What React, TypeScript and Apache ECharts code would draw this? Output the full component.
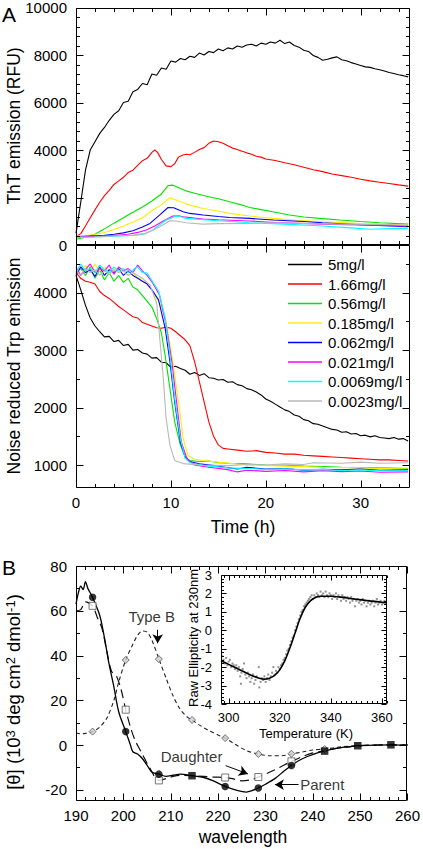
import React, { useEffect, useRef } from "react";
import * as echarts from "echarts";

const FONT = '"Liberation Sans", Arial, Helvetica, sans-serif';

// ---------- Panel A: legend / series names & colours ----------
const CONC_NAMES = ["5mg/l", "1.66mg/l", "0.56mg/l", "0.185mg/l", "0.062mg/l", "0.021mg/l", "0.0069mg/l", "0.0023mg/l"];
const CONC_COLORS = ["#000000", "#ff0000", "#00e400", "#ffee00", "#0000ff", "#ff00ff", "#00ffff", "#b8b8b8"];

// ---------- Panel A top: ThT emission (time h, RFU) ----------
const tht5 = [[0,490],[0.5,1800],[1,3150],[1.5,4000],[2,4350],[2.5,4700],[3,4950],[3.5,5250],[4,5500],[4.5,5650],[5,6000],[5.5,6050],[6,6450],[6.5,6550],[7,6800],[7.5,6750],[8,7200],[8.5,7150],[9,7450],[9.5,7400],[10,7750],[10.5,7700],[11,7850],[11.5,7800],[12,7950],[12.5,7900],[13,8080],[13.5,8000],[14,8150],[14.5,8100],[15,8250],[15.5,8180],[16,8300],[16.5,8250],[17,8380],[17.5,8330],[18,8420],[18.5,8450],[19,8380],[19.5,8500],[20,8450],[20.5,8550],[21,8500],[21.5,8620],[22,8480],[22.5,8550],[23,8400],[23.5,8330],[24,8200],[24.5,8150],[25,7980],[25.5,7900],[26,7780],[26.5,7820],[27,7880],[27.5,7920],[28,7800],[28.5,7760],[29,7680],[29.5,7620],[30,7560],[30.5,7500],[31,7480],[31.5,7420],[32,7380],[32.5,7330],[33,7260],[33.5,7220],[34,7170],[34.5,7130],[35,7080]];
const tht166 = [[0,350],[0.5,480],[1,800],[1.5,1150],[2,1480],[2.5,1800],[3,2080],[3.5,2300],[4,2550],[4.5,2700],[5,2850],[5.5,3050],[6,3150],[6.5,3350],[7,3550],[7.5,3650],[8,3900],[8.3,4000],[8.6,3900],[9,3600],[9.5,3330],[10,3300],[10.4,3420],[10.8,3700],[11.2,3780],[11.6,3820],[12,3800],[12.5,3900],[13,4020],[13.5,4100],[14,4280],[14.5,4380],[15,4350],[15.5,4280],[16,4180],[16.5,4080],[17,4020],[17.5,3950],[18,3880],[18.5,3820],[19,3740],[19.5,3700],[20,3620],[21,3560],[22,3460],[23,3380],[24,3270],[25,3170],[26,3090],[27,2990],[28,2920],[29,2850],[30,2770],[31,2700],[32,2640],[33,2590],[34,2530],[35,2480]];
const tht056 = [[0,240],[1,330],[2,450],[3,680],[4,920],[5,1150],[6,1380],[7,1600],[8,1850],[9,2150],[9.7,2500],[10.2,2520],[10.6,2450],[11,2380],[11.6,2280],[12.5,2180],[14,2030],[15,1950],[16.2,1820],[17.5,1680],[18.3,1580],[19.4,1500],[21,1380],[22.5,1260],[24,1180],[26,1110],[27.8,1050],[30,990],[32,940],[35,880]];
const tht0185 = [[0,380],[1,400],[2,440],[3,530],[4,650],[5,800],[6,970],[7,1150],[8,1450],[9,1700],[9.9,1990],[10.4,1920],[11,1820],[12,1680],[13.4,1540],[15,1430],[16.2,1330],[18.3,1220],[20.8,1120],[23,1050],[26,980],[30,900],[35,840]];
const tht0062 = [[0,350],[1,370],[2,390],[3,410],[4,450],[5,510],[6,600],[7,760],[7.8,910],[8.8,1260],[9.7,1580],[10.3,1570],[10.6,1520],[11.3,1400],[12,1330],[13.4,1260],[15,1200],[16.2,1160],[18.3,1120],[20.8,1050],[24,990],[26,940],[30,850],[35,770]];
const tht0021 = [[0,350],[2,370],[4,400],[5.5,450],[6.5,530],[7.4,630],[8.3,800],[9.2,1010],[10.2,1220],[10.8,1230],[11.3,1190],[12.5,1130],[13.4,1090],[15,1060],[18.3,1010],[21,950],[26,880],[30,840],[35,800]];
const tht00069 = [[0,320],[2,340],[4,370],[6.4,410],[7.3,480],[8.1,630],[9.5,1050],[10.6,1220],[11,1200],[11.6,1120],[13,1080],[15,1020],[18.3,940],[22,880],[26,800],[29,720],[31,660],[33,690],[35,700]];
const tht00023 = [[0,320],[2,340],[4,380],[6,420],[7.4,490],[8.8,770],[9.9,1020],[10.5,1010],[11.6,940],[13.4,880],[15,900],[18.3,910],[20.8,940],[25,900],[28,880],[32,860],[35,840]];

// ---------- Panel A bottom: noise reduced Trp emission ----------
const trp5 = [[0,4300],[0.5,4050],[1,3780],[1.5,3560],[2,3420],[2.5,3320],[3,3230],[3.5,3240],[4,3150],[4.5,3170],[5,3080],[5.5,3100],[6,3000],[6.5,3010],[7,2950],[7.5,2930],[8,2860],[8.5,2870],[9,2790],[9.5,2780],[10,2700],[10.5,2720],[11,2680],[11.5,2650],[12,2580],[12.5,2610],[13,2560],[13.5,2590],[14,2520],[14.5,2510],[15,2480],[15.5,2490],[16,2440],[16.5,2450],[17,2400],[17.5,2380],[18,2330],[18.5,2310],[19,2270],[19.5,2220],[20,2150],[20.5,2110],[21,2060],[21.5,2010],[22,1960],[22.5,1930],[23,1870],[23.5,1850],[24,1790],[24.5,1770],[25,1720],[25.5,1710],[26,1680],[26.5,1650],[27,1620],[27.5,1610],[28,1570],[28.5,1580],[29,1540],[29.5,1550],[30,1510],[30.5,1520],[31,1490],[31.5,1510],[32,1480],[32.5,1470],[33,1460],[33.5,1480],[34,1450],[34.5,1460],[35,1420]];
const trp166 = [[0,4350],[0.5,4250],[1,4200],[1.5,4180],[2,4150],[2.5,4020],[3,3950],[3.5,3900],[4,3830],[4.5,3760],[5,3700],[5.5,3640],[6,3580],[6.5,3560],[7,3480],[7.5,3450],[8,3420],[8.5,3390],[9,3380],[9.5,3400],[10,3380],[10.5,3320],[11,3250],[11.5,3180],[12,3080],[12.5,2800],[13,2450],[13.5,2100],[14,1750],[14.5,1500],[15,1350],[15.5,1290],[16,1280],[17,1260],[18,1240],[19,1250],[20,1220],[21,1210],[22,1190],[23,1190],[24,1170],[25,1160],[26,1150],[27,1140],[28,1130],[29,1120],[30,1110],[31,1100],[32,1090],[33,1090],[34,1080],[35,1070]];
const trp056 = [[0,4350],[0.5,4420],[1,4300],[1.5,4450],[2,4250],[2.5,4400],[3,4220],[3.5,4350],[4,4200],[4.5,4300],[5,4180],[5.5,4250],[6,4100],[6.5,4050],[7,3950],[7.5,3850],[8,3750],[8.5,3550],[9,3300],[9.4,2900],[9.9,2330],[10.4,1750],[11,1350],[11.5,1140],[12,1080],[13,1060],[14,1070],[15,1040],[16,1030],[18,1020],[20,1000],[22,995],[24,980],[26,975],[28,960],[30,955],[32,950],[35,940]];
const trp0185 = [[0,4400],[0.5,4300],[1,4480],[1.5,4350],[2,4500],[2.5,4380],[3,4450],[3.5,4320],[4,4420],[4.5,4350],[5,4400],[5.5,4300],[6,4350],[6.5,4250],[7,4250],[7.5,4150],[8,4050],[8.5,3900],[9,3750],[9.5,3500],[10.2,2800],[10.8,2100],[11.3,1460],[11.8,1165],[12.5,1100],[13.4,1080],[15,1050],[18,1000],[22,980],[26,960],[30,950],[35,930]];
const trp0062 = [[0,4300],[0.5,4450],[1,4350],[1.5,4400],[2,4280],[2.5,4450],[3,4300],[3.5,4400],[4,4350],[4.5,4420],[5,4300],[5.5,4380],[6,4300],[6.5,4250],[7,4200],[7.5,4150],[8,4050],[8.7,3875],[9.4,3380],[9.9,2800],[10.4,2100],[11,1400],[11.5,1140],[12,1060],[13,1020],[15,980],[17,930],[18,960],[20,930],[22,940],[24,910],[26,925],[28,915],[30,930],[32,910],[35,915]];
const trp0021 = [[0,4450],[0.5,4300],[1,4400],[1.5,4500],[2,4350],[2.5,4420],[3,4380],[3.5,4480],[4,4320],[4.5,4450],[5,4380],[5.5,4420],[6,4350],[6.5,4480],[7,4380],[7.5,4300],[8.1,4165],[8.8,3960],[9.5,3440],[10.1,2800],[10.6,2100],[11.1,1400],[11.7,1105],[12.5,1000],[14,960],[16,920],[17,880],[18,910],[20,890],[22,905],[24,880],[26,900],[28,885],[30,895],[32,875],[35,880]];
const trp00069 = [[0,4350],[0.5,4500],[1,4380],[1.5,4420],[2,4350],[2.5,4480],[3,4400],[3.5,4350],[4,4450],[4.5,4380],[5,4420],[5.5,4350],[6,4400],[6.5,4450],[7,4350],[7.5,4340],[8.7,4030],[9.4,3560],[9.9,2915],[10.4,2160],[11,1460],[11.5,1120],[12,1040],[14,980],[16,950],[18,940],[20,925],[22,935],[24,915],[26,925],[28,905],[30,915],[32,900],[35,900]];
const trp00023 = [[0,4380],[0.5,4300],[1,4420],[1.5,4350],[2,4400],[2.5,4300],[3,4380],[3.5,4320],[4,4400],[4.5,4350],[5,4380],[5.5,4300],[6,4350],[6.5,4300],[7,4250],[7.8,4135],[8.5,3815],[8.8,3260],[9.2,2510],[9.5,1810],[9.9,1345],[10.4,1080],[11.3,1025],[13,1000],[16,990],[18,1010],[20,1000],[22,1020],[24,1010],[25,1040],[28,1030],[30,1050],[32,1030],[35,1040]];

const THT_DATA = [tht5, tht166, tht056, tht0185, tht0062, tht0021, tht00069, tht00023];
const TRP_DATA = [trp5, trp166, trp056, trp0185, trp0062, trp0021, trp00069, trp00023];

// ---------- Panel B: CD spectra (wavelength nm, 10^3 deg cm2 dmol-1) ----------
const parentCurve = [[190,63],[190.5,68],[191,71],[191.5,69.5],[192,73],[192.5,70],[193.5,66],[195,58],[196,48],[197,36],[198,26],[199,15],[200.5,6],[201.5,0],[202,-3],[203,-4],[204,-6],[205,-9],[206,-12],[207.5,-13],[209,-14],[210.5,-13.5],[212,-13],[214.5,-13.7],[217,-14.5],[219,-16],[221.5,-18.5],[224,-20.3],[226,-21],[227,-20.5],[228.5,-19.2],[230,-17.5],[232,-15],[234,-11.5],[235.5,-9.1],[237,-7],[239,-5],[241,-3.5],[242.5,-2.7],[245,-1.5],[247.5,-0.8],[249.5,-0.3],[253,0],[256.5,0.1],[260,0]];
const parentCircles = [[193.5,66],[200.5,6],[207.5,-13],[221.5,-18.5],[228.5,-19.2],[235.5,-9.1]];
const parentSquares = [[214.5,-13.7],[242.5,-2.7],[249.5,-0.3],[256.5,0.1]];
const daughterCurve = [[190,60],[191,60.5],[192,64],[193.5,62.2],[194.5,57],[195.5,52],[196.5,42],[197.5,33],[198.5,31],[199.5,25],[200.5,15.8],[201.5,8],[202.5,2],[204,-4],[205.5,-10],[207.5,-15.8],[209,-15],[210.5,-14],[212,-13.5],[214.5,-13.7],[217,-14],[219,-14.3],[221.5,-14.5],[223,-15],[225,-16],[227,-15.5],[228.5,-14.3],[230.5,-12.5],[233,-10],[235.5,-7.3],[238,-5],[240,-3.5],[242.5,-2.6],[245,-1.5],[247.5,-0.8],[249.5,-0.3],[253,0],[256.5,0.1],[260,0.1]];
const daughterSquares = [[193.5,62.2],[200.5,15.8],[207.5,-15.8],[221.5,-14.5],[228.5,-14.3],[235.5,-7.3]];
const typeBCurve = [[190,5.5],[191,5],[192,5.2],[193.5,6],[195,8],[196.5,12],[198,20],[199,28],[200.5,38],[202,45],[203,49],[204,51],[205,50.5],[206,47],[207.5,38.5],[209,30],[210.5,22],[212,16],[213.5,12.5],[214.5,11.2],[216,9],[218,6.5],[220,4.5],[221.5,3.1],[223.5,0.5],[226,-2.5],[228.5,-4],[231,-4.8],[233.5,-4.8],[235.5,-4],[238,-3],[240,-2.2],[242.5,-1.8],[246,-0.8],[250,-0.3],[254,0],[256.5,0],[260,0]];
const typeBDiamonds = [[193.5,6],[200.5,38],[207.5,38.4],[214.5,11.2],[221.5,3.1],[228.5,-4],[235.5,-3.9],[242.5,-1.8]];

// annotation labels [x, y] in data units, and arrows [x1, y1, x2, y2]
const ANNOT_LABELS = [{ text: "Type B", at: [206.0, 57.5] }, { text: "Daughter", at: [214.4, -5.3] }, { text: "Parent", at: [242.0, -17.7] }];
const ANNOT_ARROWS = [[207.25, 51.5, 207.25, 45.5], [221.6, -9.2, 226.3, -12.9], [237.0, -17.7, 232.0, -17.7]];

// ---------- Inset: raw ellipticity at 230 nm vs temperature ----------
const insetFit = [[297,-1.65],[300,-1.85],[303,-2.05],[306,-2.25],[309,-2.45],[312,-2.6],[314,-2.65],[316,-2.6],[318,-2.45],[320,-2.15],[322,-1.65],[324,-0.95],[326,-0.15],[328,0.65],[330,1.25],[332,1.6],[334,1.78],[336,1.85],[338,1.85],[340,1.85],[344,1.8],[348,1.72],[352,1.65],[356,1.58],[360,1.52],[362,1.5]];
const insetPoints = [[297.5,-1.4],[298,-1.6],[298.5,-1.8],[299,-1.5],[299.5,-1.9],[300,-1.7],[300.5,-1.6],[301,-2.0],[301.5,-1.8],[302,-1.9],[302.5,-2.1],[303,-1.9],[303.5,-2.2],[304,-2.0],[304.5,-2.5],[304.8,-2.9],[305,-2.3],[305.5,-2.1],[306,-1.8],[306.5,-2.4],[307,-2.6],[307.5,-2.3],[308,-2.5],[308.5,-2.8],[309,-2.6],[309.5,-2.4],[310,-2.9],[310.5,-2.7],[311,-2.5],[311.8,-2.0],[312,-3.1],[312.5,-2.8],[313,-2.6],[313.5,-2.7],[314,-2.5],[314.5,-2.8],[315,-2.6],[315.5,-2.4],[316,-2.7],[316.5,-2.5],[317,-2.3],[317.5,-2.0],[318,-2.4],[318.5,-2.2],[319,-2.3],[319.5,-2.0],[320,-2.1],[320.5,-1.9],[321,-1.8],[321.5,-1.6],[322,-1.5],[322.5,-1.3],[323,-1.1],[323.5,-1.0],[324,-0.8],[324.5,-0.6],[325,-0.4],[325.5,-0.3],[326,0.0],[326.5,0.2],[327,0.4],[327.5,0.6],[328,0.8],[328.5,1.0],[329,1.1],[329.5,1.3],[330,1.4],[330.5,1.5],[331,1.6],[331.5,1.7],[332,1.8],[332.5,1.9],[333,1.7],[333.5,1.9],[334,1.8],[334.5,2.0],[335,1.9],[335.5,1.8],[336,2.1],[336.5,1.9],[337,2.0],[337.5,1.8],[338,2.1],[338.5,1.9],[339,1.8],[339.5,2.0],[340,1.9],[340.5,1.7],[341,1.9],[341.5,1.8],[342,2.0],[342.5,1.7],[343,1.9],[343.5,1.8],[344,1.6],[344.5,1.9],[345,1.7],[345.5,1.8],[346,1.6],[346.5,1.8],[347,1.7],[347.5,1.5],[348,1.8],[348.5,1.6],[349,1.7],[349.5,1.3],[350,1.6],[350.5,1.7],[351,1.5],[351.5,1.6],[352,1.4],[352.5,1.7],[353,1.5],[353.5,1.6],[354,1.3],[354.5,1.5],[355,1.6],[355.5,1.4],[356,1.5],[356.5,1.6],[357,1.3],[357.5,1.5],[358,1.7],[358.5,1.4],[359,1.5],[359.5,1.6],[360,1.4],[360.5,1.5],[361,1.6],[361.5,1.5]];

// ---------- tick labels ----------
const TIME_TICKS = [0, 10, 20, 30];
const THT_TICKS = [0, 2000, 4000, 6000, 8000, 10000];
const TRP_TICKS = [1000, 2000, 3000, 4000];
const WL_TICKS = [190, 200, 210, 220, 230, 240, 250, 260];
const CD_TICKS = [-20, 0, 20, 40, 60, 80];
const TEMP_TICKS = [300, 320, 340, 360];
const ELL_TICKS = [-4, -3, -2, -1, 0, 1, 2, 3];

function minorTicks(min: number, max: number, step: number, majors: number[]) {
  const out: number[] = [];
  const start = Math.ceil(min / step - 1e-9);
  for (let i = start; i * step <= max + 1e-9; i++) {
    const v = Math.round(i * step * 1000) / 1000;
    if (!majors.some((m) => Math.abs(m - v) < 1e-6)) out.push(v);
  }
  return out;
}

type AxisSpec = { min: number; max: number; majors: number[]; minorStep: number; labels: boolean; font: number };

function axisOf(gi: number, s: AxisSpec, dim: "x" | "y") {
  return {
    type: "value", gridIndex: gi, min: s.min, max: s.max, position: dim === "x" ? "bottom" : "left",
    axisLine: { show: false, onZero: false }, axisTick: { show: false }, splitLine: { show: false },
    axisLabel: { show: s.labels, customValues: s.majors, color: "#000", fontSize: s.font, fontFamily: FONT, margin: dim === "x" ? 7 : 9, formatter: (v: number) => String(v) },
  };
}

export default function App() {
  const ref = useRef<HTMLDivElement>(null);
  useEffect(() => {
    if (!ref.current) return;
    const chart = echarts.init(ref.current, undefined, { renderer: "svg" });

    const grids = [
      { left: 76, top: 7, width: 334, height: 238 },
      { left: 76, top: 245, width: 334, height: 243 },
      { left: 76, top: 566, width: 334, height: 235 },
      { left: 221, top: 575, width: 166, height: 129 },
    ].map((g, i) => ({ ...g, show: i === 3, borderWidth: 0, backgroundColor: "#fff", containLabel: false }));

    const X: AxisSpec[] = [
      { min: 0, max: 35.2, majors: TIME_TICKS, minorStep: 2, labels: false, font: 15 },
      { min: 0, max: 35.2, majors: TIME_TICKS, minorStep: 2, labels: true, font: 15 },
      { min: 190, max: 260, majors: WL_TICKS, minorStep: 2, labels: true, font: 15 },
      { min: 297, max: 362, majors: TEMP_TICKS, minorStep: 2, labels: true, font: 13 },
    ];
    const Y: AxisSpec[] = [
      { min: 0, max: 10000, majors: THT_TICKS, minorStep: 400, labels: true, font: 15 },
      { min: 600, max: 4830, majors: TRP_TICKS, minorStep: 500, labels: true, font: 15 },
      { min: -25, max: 80, majors: CD_TICKS, minorStep: 10, labels: true, font: 15 },
      { min: -4, max: 3, majors: ELL_TICKS, minorStep: 0.2, labels: true, font: 13 },
    ];
    const TICK_LEN = [[7, 3.5], [7, 3.5], [7, 3.5], [5, 2.5]];

    const series: any[] = [];
    CONC_NAMES.forEach((name, i) => {
      series.push({ name, type: "line", xAxisIndex: 0, yAxisIndex: 0, data: THT_DATA[i], symbol: "none", lineStyle: { color: CONC_COLORS[i], width: 1.1 }, itemStyle: { color: CONC_COLORS[i] } });
    });
    CONC_NAMES.forEach((name, i) => {
      series.push({ name, type: "line", xAxisIndex: 1, yAxisIndex: 1, data: TRP_DATA[i], symbol: "none", lineStyle: { color: CONC_COLORS[i], width: 1.1 }, itemStyle: { color: CONC_COLORS[i] } });
    });

    // Panel B
    series.push({ name: "Type B", type: "line", xAxisIndex: 2, yAxisIndex: 2, data: typeBCurve, symbol: "none", smooth: 0.3, lineStyle: { color: "#222", width: 1.1, type: [4, 3] } });
    series.push({ name: "Daughter", type: "line", xAxisIndex: 2, yAxisIndex: 2, data: daughterCurve, symbol: "none", smooth: 0.3, lineStyle: { color: "#111", width: 1.2, type: [9, 5] } });
    series.push({ name: "Parent", type: "line", xAxisIndex: 2, yAxisIndex: 2, data: parentCurve, symbol: "none", smooth: 0.3, lineStyle: { color: "#000", width: 1.3 } });
    series.push({ type: "scatter", xAxisIndex: 2, yAxisIndex: 2, data: typeBDiamonds, symbol: "diamond", symbolSize: 7, itemStyle: { color: "#d0d0d0", borderColor: "#555", borderWidth: 1 }, z: 4 });
    series.push({ type: "scatter", xAxisIndex: 2, yAxisIndex: 2, data: daughterSquares, symbol: "rect", symbolSize: 7, itemStyle: { color: "#fff", borderColor: "#555", borderWidth: 1 }, z: 4 });
    series.push({ type: "scatter", xAxisIndex: 2, yAxisIndex: 2, data: parentCircles, symbol: "circle", symbolSize: 7.5, itemStyle: { color: "#000" }, z: 5 });
    series.push({ type: "scatter", xAxisIndex: 2, yAxisIndex: 2, data: parentSquares, symbol: "rect", symbolSize: 7.5, itemStyle: { color: "#000" }, z: 5 });
    series.push({
      type: "scatter", xAxisIndex: 2, yAxisIndex: 2, symbolSize: 0, silent: true, z: 6,
      data: ANNOT_LABELS.map((a) => ({ value: a.at, name: a.text })),
      label: { show: true, position: "inside", formatter: (p: any) => p.name, color: "#000", fontSize: 15, fontFamily: FONT },
      markLine: {
        silent: true, symbol: ["none", "arrow"], symbolSize: [8, 9], animation: false,
        lineStyle: { color: "#000", width: 1, type: "solid" }, label: { show: false },
        data: ANNOT_ARROWS.map((a) => [{ coord: [a[0], a[1]] }, { coord: [a[2], a[3]] }]),
      },
    });

    // inset
    series.push({ type: "scatter", xAxisIndex: 3, yAxisIndex: 3, data: insetPoints, symbol: "rect", symbolSize: 2, itemStyle: { color: "#777" }, z: 7 });
    series.push({ type: "line", xAxisIndex: 3, yAxisIndex: 3, data: insetFit, symbol: "none", smooth: 0.3, lineStyle: { color: "#000", width: 1.6 }, z: 8 });

    const title = (text: string, x: number, y: number, size: number, rotate = false) => ({
      type: "text", x, y, rotation: rotate ? Math.PI / 2 : 0, z: 100,
      style: { text, fontSize: size, fontFamily: FONT, fill: "#000", align: "center", verticalAlign: "middle" },
    });
    const titles: any[] = [
      title("A", 9, 14, 21),
      title("B", 9, 567, 21),
      title("ThT emission (RFU)", 14, 126, 17.5, true),
      title("Noise reduced Trp emission", 14, 366, 17.5, true),
      title("Time (h)", 243, 527, 17.5),
      title("wavelength", 243, 837, 17.5),
      title("Raw Ellipticity at 230nm", 193, 638, 13, true),
      title("Temperature (K)", 306, 733, 13),
      {
        type: "text", x: 13, y: 692, rotation: Math.PI / 2, z: 100,
        style: {
          text: "{n|[θ] (10}{s|3}{n| deg cm}{s|2}{n| dmol}{s|-1}{n|)}",
          align: "center", verticalAlign: "middle", fill: "#000", fontFamily: FONT,
          rich: { n: { fontSize: 18.5, fontFamily: FONT, fill: "#000" }, s: { fontSize: 13, fontFamily: FONT, verticalAlign: "top", fill: "#000" } },
        },
      },
    ];

    chart.setOption({
      animation: false,
      backgroundColor: "#fff",
      textStyle: { fontFamily: FONT },
      grid: grids,
      xAxis: X.map((s, i) => axisOf(i, s, "x")),
      yAxis: Y.map((s, i) => axisOf(i, s, "y")),
      legend: {
        data: CONC_NAMES.map((name) => ({ name, icon: "path://M0,0H34V1.4H0Z" })),
        orient: "vertical", left: 288, top: 257, padding: 0,
        itemWidth: 34, itemHeight: 14, itemGap: 4.5, selectedMode: false,
        textStyle: { fontSize: 15, color: "#000", fontFamily: FONT, padding: [0, 0, 0, 1] },
      },
      series,
      graphic: titles,
    });

    // frames and inward ticks on all four sides, positioned through each grid's scales
    const frameParts: any[] = [];
    const stroke = { stroke: "#000", lineWidth: 1 };
    for (let g = 0; g < 4; g++) {
      const xs = X[g], ys = Y[g];
      const px = (x: number, y: number) => chart.convertToPixel({ gridIndex: g } as any, [x, y]) as number[];
      const bl = px(xs.min, ys.min), tr = px(xs.max, ys.max);
      const L = Math.round(bl[0]) + 0.5, R = Math.round(tr[0]) - 0.5, B = Math.round(bl[1]) - 0.5, T = Math.round(tr[1]) + 0.5;
      frameParts.push({ type: "rect", z: 50, shape: { x: L, y: T, width: R - L, height: B - T }, style: { fill: null, stroke: "#000", lineWidth: 1 } });
      const [maj, mnr] = TICK_LEN[g];
      const xt: [number, number][] = [...xs.majors.map((v) => [v, maj] as [number, number]), ...minorTicks(xs.min, xs.max, xs.minorStep, xs.majors).map((v) => [v, mnr] as [number, number])];
      const yt: [number, number][] = [...ys.majors.map((v) => [v, maj] as [number, number]), ...minorTicks(ys.min, ys.max, ys.minorStep, ys.majors).map((v) => [v, mnr] as [number, number])];
      xt.forEach(([v, len]) => {
        const x = Math.round(px(v, ys.min)[0]) + 0.5;
        frameParts.push({ type: "line", z: 50, shape: { x1: x, y1: B, x2: x, y2: B - len }, style: stroke });
        frameParts.push({ type: "line", z: 50, shape: { x1: x, y1: T, x2: x, y2: T + len }, style: stroke });
      });
      yt.forEach(([v, len]) => {
        const y = Math.round(px(xs.min, v)[1]) + 0.5;
        frameParts.push({ type: "line", z: 50, shape: { x1: L, y1: y, x2: L + len, y2: y }, style: stroke });
        frameParts.push({ type: "line", z: 50, shape: { x1: R, y1: y, x2: R - len, y2: y }, style: stroke });
      });
    }
    chart.setOption({ graphic: [...titles, ...frameParts] });

    return () => chart.dispose();
  }, []);
  return <div ref={ref} style={{ position: "absolute", left: 0, top: 0, width: 423, height: 849 }} />;
}
